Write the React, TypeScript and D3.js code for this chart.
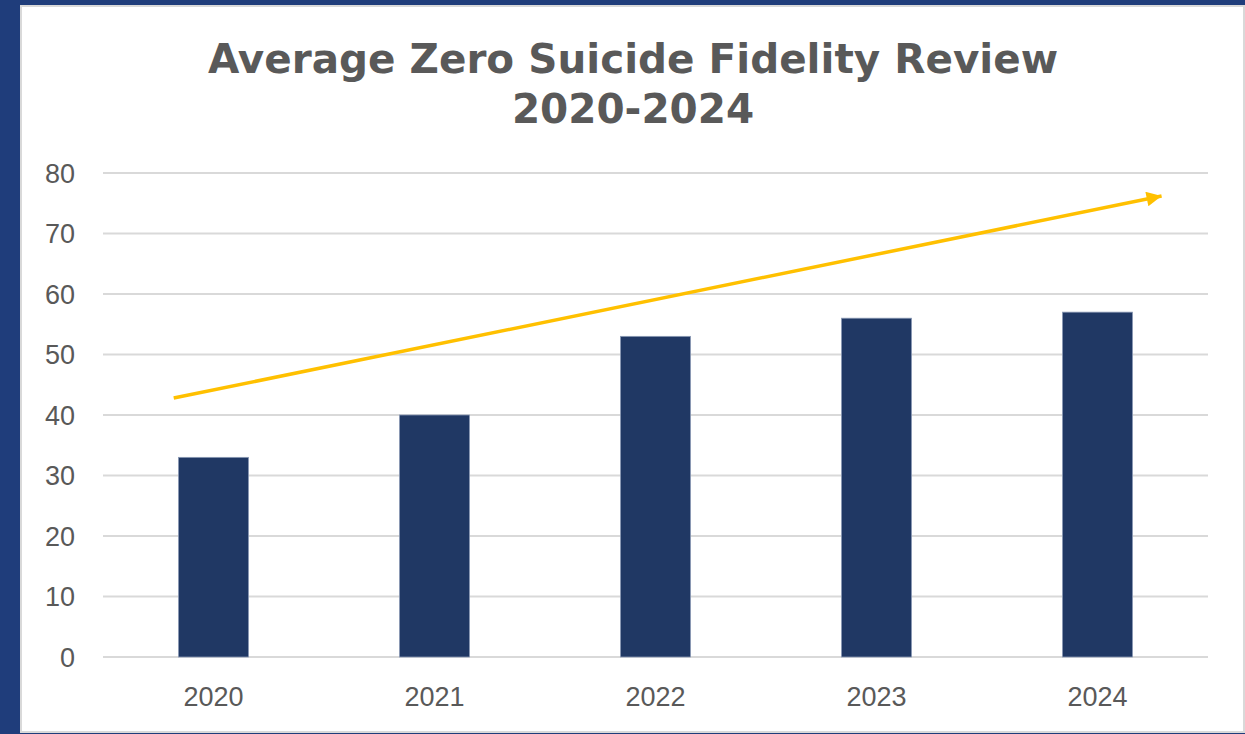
import React, { useEffect, useRef } from 'react';
import * as d3 from 'd3';

const years = ['2020', '2021', '2022', '2023', '2024'];
const fidelityScores = [33, 40, 53, 56, 57];
const yTicks = [0, 10, 20, 30, 40, 50, 60, 70, 80];
// trend arrow, in [category position, value]
const trendStart: [number, number] = [-0.18, 42.8];
const trendEnd: [number, number] = [4.29, 76.2];
const titleLines = ['Average Zero Suicide Fidelity Review', '2020-2024'];

const W = 1245;
const H = 734;

export default function App() {
  const svgRef = useRef<SVGSVGElement>(null);

  useEffect(() => {
    if (!svgRef.current) return;
    const svg = d3.select(svgRef.current);
    svg.selectAll('*').remove();

    // blue backdrop + white card
    svg.append('rect').attr('width', W).attr('height', H).attr('fill', '#1f3d7b');
    svg.append('rect')
      .attr('x', 21).attr('y', 6)
      .attr('width', 1223).attr('height', 726)
      .attr('fill', '#ffffff')
      .attr('stroke', '#d9d9d9')
      .attr('stroke-width', 2);

    const left = 103, right = 1208, top = 173, bottom = 657;

    const x = d3.scaleBand<string>()
      .domain(years)
      .range([left, right])
      .paddingInner(0.683)
      .paddingOuter(0.3415);

    const y = d3.scaleLinear().domain([0, 80]).range([bottom, top]);

    const xPos = d3.scaleLinear()
      .domain([0, years.length - 1])
      .range([x(years[0])! + x.bandwidth() / 2, x(years[years.length - 1])! + x.bandwidth() / 2]);

    // Title
    const title = svg.append('text')
      .attr('text-anchor', 'middle')
      .attr('fill', '#595959')
      .style('font-family', '"DejaVu Sans", Verdana, sans-serif')
      .style('font-weight', 'bold')
      .style('font-size', '40.5px');
    titleLines.forEach((t, i) => {
      title.append('tspan')
        .attr('x', 633)
        .attr('y', 73 + i * 50)
        .text(t);
    });

    // Grid lines
    svg.append('g')
      .selectAll('line')
      .data(yTicks)
      .join('line')
      .attr('x1', left)
      .attr('x2', right)
      .attr('y1', d => y(d))
      .attr('y2', d => y(d))
      .attr('stroke', '#d9d9d9')
      .attr('stroke-width', 2.2);

    // Y tick labels
    svg.append('g')
      .selectAll('text')
      .data(yTicks)
      .join('text')
      .attr('x', 75)
      .attr('y', d => y(d))
      .attr('dy', '0.36em')
      .attr('text-anchor', 'end')
      .attr('fill', '#595959')
      .style('font-family', '"Liberation Sans", Arial, sans-serif')
      .style('font-size', '27px')
      .text(d => d);

    // Bars
    svg.append('g')
      .selectAll('rect')
      .data(fidelityScores)
      .join('rect')
      .attr('x', (_, i) => x(years[i])!)
      .attr('y', d => y(d))
      .attr('width', x.bandwidth())
      .attr('height', d => y(0) - y(d))
      .attr('fill', '#203864')
      .attr('stroke', '#8a9ab5')
      .attr('stroke-width', 0.8);

    // X labels
    svg.append('g')
      .selectAll('text')
      .data(years)
      .join('text')
      .attr('x', d => x(d)! + x.bandwidth() / 2)
      .attr('y', 706)
      .attr('text-anchor', 'middle')
      .attr('fill', '#595959')
      .style('font-family', '"Liberation Sans", Arial, sans-serif')
      .style('font-size', '27px')
      .text(d => d);

    // Trend arrow
    svg.append('defs')
      .append('marker')
      .attr('id', 'arrowHead')
      .attr('viewBox', '0 0 10 10')
      .attr('refX', 10)
      .attr('refY', 5)
      .attr('markerUnits', 'userSpaceOnUse')
      .attr('markerWidth', 17)
      .attr('markerHeight', 15)
      .attr('orient', 'auto')
      .append('path')
      .attr('d', 'M0,0 L10,5 L0,10 Z')
      .attr('fill', '#ffc000');

    svg.append('line')
      .attr('x1', xPos(trendStart[0]))
      .attr('y1', y(trendStart[1]))
      .attr('x2', xPos(trendEnd[0]))
      .attr('y2', y(trendEnd[1]))
      .attr('stroke', '#ffc000')
      .attr('stroke-width', 3.5)
      .attr('marker-end', 'url(#arrowHead)');
  }, []);

  return (
    <svg
      ref={svgRef}
      width={W}
      height={H}
      style={{ position: 'absolute', left: 0, top: 0, display: 'block' }}
    />
  );
}
